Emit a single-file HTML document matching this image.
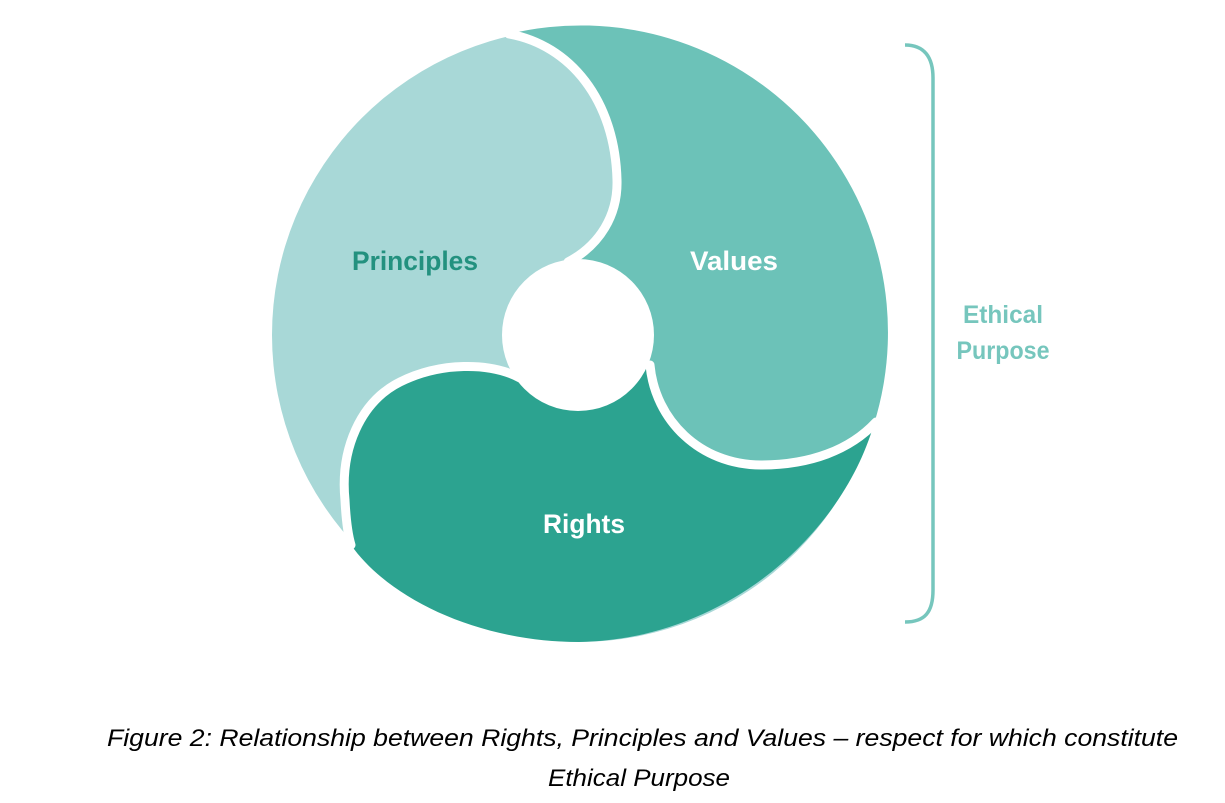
<!DOCTYPE html>
<html><head><meta charset="utf-8"><style>
html,body{margin:0;padding:0;background:#fff;width:1225px;height:803px;overflow:hidden}
</style></head><body>
<svg width="1225" height="803" viewBox="0 0 1225 803" xmlns="http://www.w3.org/2000/svg">
<circle cx="579" cy="335" r="307" fill="#a8d8d7"/>
<path d="M509,34 A307,307 0 0 1 874,424 C850,450 810,465 761,465 C700,465 655,420 650,365 L579,335 L568,262 C600,245 618,215 617,180 C615,100 570,45 509,34 Z" fill="#6cc2b8"/>
<path d="M874,424 C840,540 720,640 579,642 C480,642 390,600 351,545 C348,535 346,520 345,500 C340,450 360,402 400,382 C440,362 490,362 520,378 L579,335 L650,365 C655,420 700,465 761,465 C810,465 850,450 874,424 Z" fill="#2ca390"/>
<g fill="none" stroke="#fff" stroke-width="9" stroke-linecap="round">
<path d="M509,34 C570,45 615,100 617,180 C618,215 600,245 568,262"/>
<path d="M650,365 C655,420 700,465 761,465 C810,465 850,450 876,422"/>
<path d="M520,378 C490,362 440,362 400,382 C360,402 340,450 345,500 C346,520 348,535 351,545"/>
</g>
<circle cx="578" cy="335" r="76" fill="#fff"/>
<g font-family="'Liberation Sans', sans-serif" font-weight="bold" font-size="27">
<text x="415" y="270" text-anchor="middle" fill="#23917f" textLength="126" lengthAdjust="spacingAndGlyphs">Principles</text>
<text x="734" y="270" text-anchor="middle" fill="#fff" textLength="88" lengthAdjust="spacingAndGlyphs">Values</text>
<text x="584" y="533" text-anchor="middle" fill="#fff" textLength="82" lengthAdjust="spacingAndGlyphs">Rights</text>
<text x="1003" y="323" text-anchor="middle" fill="#76c6bd" font-size="25" textLength="80" lengthAdjust="spacingAndGlyphs">Ethical</text>
<text x="1003" y="359" text-anchor="middle" fill="#76c6bd" font-size="25" textLength="93" lengthAdjust="spacingAndGlyphs">Purpose</text>
</g>
<path d="M905,45 C925,45 933,58 933,78 L933,590 C933,612 925,622 905,622" fill="none" stroke="#76c6bd" stroke-width="3.5"/>
<g font-family="'Liberation Sans', sans-serif" font-style="italic" font-size="24" fill="#000">
<text x="107" y="746" textLength="1071" lengthAdjust="spacingAndGlyphs">Figure 2: Relationship between Rights, Principles and Values – respect for which constitute</text>
<text x="639" y="786" text-anchor="middle" textLength="182" lengthAdjust="spacingAndGlyphs">Ethical Purpose</text>
</g>
</svg>
</body></html>
